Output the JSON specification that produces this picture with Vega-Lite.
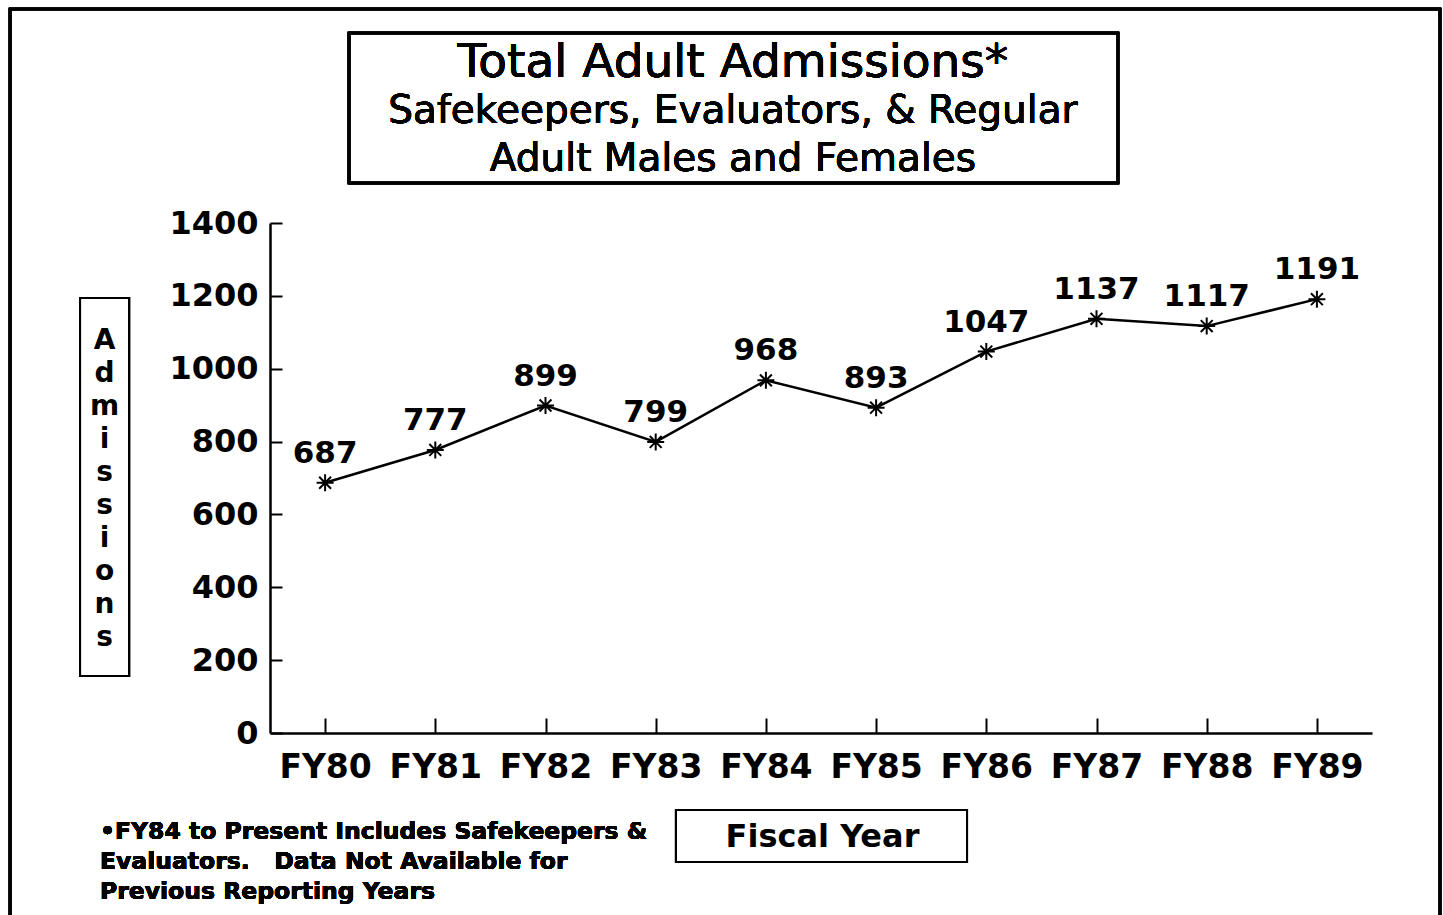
{
  "$schema": "https://vega.github.io/schema/vega-lite/v6.json",
  "autosize": "none",
  "width": 1102,
  "height": 510,
  "padding": {"left": 270, "top": 223, "right": 71, "bottom": 182},
  "background": "white",
  "config": {"view": {"stroke": null}},
  "data": {"values": [
    {"year": 80, "fy": "FY80", "admissions": 687},
    {"year": 81, "fy": "FY81", "admissions": 777},
    {"year": 82, "fy": "FY82", "admissions": 899},
    {"year": 83, "fy": "FY83", "admissions": 799},
    {"year": 84, "fy": "FY84", "admissions": 968},
    {"year": 85, "fy": "FY85", "admissions": 893},
    {"year": 86, "fy": "FY86", "admissions": 1047},
    {"year": 87, "fy": "FY87", "admissions": 1137},
    {"year": 88, "fy": "FY88", "admissions": 1117},
    {"year": 89, "fy": "FY89", "admissions": 1191}
  ]},
  "encoding": {
    "x": {
      "field": "year", "type": "quantitative",
      "scale": {"domain": [79.5, 89.5], "nice": false, "zero": false},
      "axis": {
        "values": [80, 81, 82, 83, 84, 85, 86, 87, 88, 89],
        "labelExpr": "'FY' + datum.value",
        "grid": false,
        "domainColor": "black", "domainWidth": 2.5,
        "tickColor": "black", "tickWidth": 2, "tickSize": -15,
        "labelFont": "DejaVu Sans", "labelFontWeight": "bold", "labelFontSize": 33, "labelColor": "black",
        "labelPadding": 33, "labelFlush": false, "labelOverlap": false,
        "title": "Fiscal Year",
        "titleFont": "DejaVu Sans", "titleFontWeight": "bold", "titleFontSize": 32, "titleColor": "black",
        "titleX": 552, "titleY": 103, "titleBaseline": "middle", "titleAlign": "center"
      }
    },
    "y": {
      "field": "admissions", "type": "quantitative",
      "scale": {"domain": [0, 1400], "nice": false},
      "axis": {
        "values": [0, 200, 400, 600, 800, 1000, 1200, 1400],
        "format": "d",
        "grid": false,
        "domainColor": "black", "domainWidth": 2.5,
        "tickColor": "black", "tickWidth": 2, "tickSize": -12,
        "labelFont": "DejaVu Sans", "labelFontWeight": "bold", "labelFontSize": 32, "labelColor": "black",
        "labelPadding": 24, "labelFlush": false, "labelOverlap": false,
        "title": ["A", "d", "m", "i", "s", "s", "i", "o", "n", "s"],
        "titleFont": "DejaVu Sans", "titleFontWeight": "bold", "titleFontSize": 28, "titleColor": "black",
        "titleAngle": 0, "titleLineHeight": 33,
        "titleX": -166, "titleY": 117, "titleBaseline": "middle", "titleAlign": "center"
      }
    }
  },
  "layer": [
    {
      "mark": {"type": "rect", "fill": null, "stroke": "black", "strokeWidth": 2.5},
      "encoding": {
        "x": {"datum": 77.141}, "x2": {"datum": 90.117},
        "y": {"datum": 1987.5}, "y2": {"datum": -527}
      }
    },
    {
      "mark": {"type": "rect", "fill": null, "stroke": "black", "strokeWidth": 2.5},
      "encoding": {
        "x": {"datum": 80.217}, "x2": {"datum": 87.195},
        "y": {"datum": 1921.6}, "y2": {"datum": 1509.8}
      }
    },
    {
      "mark": {"type": "rect", "fill": null, "stroke": "black", "strokeWidth": 2},
      "encoding": {
        "x": {"datum": 77.776}, "x2": {"datum": 78.221},
        "y": {"datum": 1194.1}, "y2": {"datum": 156.5}
      }
    },
    {
      "mark": {"type": "rect", "fill": null, "stroke": "black", "strokeWidth": 2},
      "encoding": {
        "x": {"datum": 83.184}, "x2": {"datum": 85.825},
        "y": {"datum": -211.4}, "y2": {"datum": -354.1}
      }
    },
    {
      "mark": {"type": "text", "text": "Total Adult Admissions*", "font": "DejaVu Sans", "fontSize": 47, "color": "black", "align": "center", "baseline": "middle"},
      "encoding": {"x": {"datum": 83.701}, "y": {"datum": 1839.2}}
    },
    {
      "mark": {"type": "text", "text": ["Safekeepers, Evaluators, & Regular", "Adult Males and Females"], "font": "DejaVu Sans", "fontSize": 39, "lineHeight": 48, "color": "black", "align": "center", "baseline": "middle"},
      "encoding": {"x": {"datum": 83.701}, "y": {"datum": 1707.4}}
    },
    {
      "mark": {"type": "text", "text": ["•FY84 to Present Includes Safekeepers &", "Evaluators.\u00a0\u00a0\u00a0Data Not Available for", "Previous Reporting Years"], "font": "DejaVu Sans", "fontWeight": "bold", "fontSize": 23.5, "lineHeight": 30, "color": "black", "align": "left", "baseline": "top"},
      "encoding": {"x": {"datum": 77.957}, "y": {"datum": -238.8}}
    },
    {
      "mark": {"type": "line", "color": "black", "strokeWidth": 2.5}
    },
    {
      "mark": {"type": "point", "shape": "M0,-1L0,1M-1,0L1,0M-0.7,-0.7L0.7,0.7M-0.7,0.7L0.7,-0.7", "filled": false, "stroke": "black", "strokeWidth": 2, "size": 289, "opacity": 1}
    },
    {
      "mark": {"type": "text", "font": "DejaVu Sans", "fontWeight": "bold", "fontSize": 31, "color": "black", "align": "center", "baseline": "bottom", "dy": -13},
      "encoding": {"text": {"field": "admissions", "type": "nominal"}}
    }
  ]
}
